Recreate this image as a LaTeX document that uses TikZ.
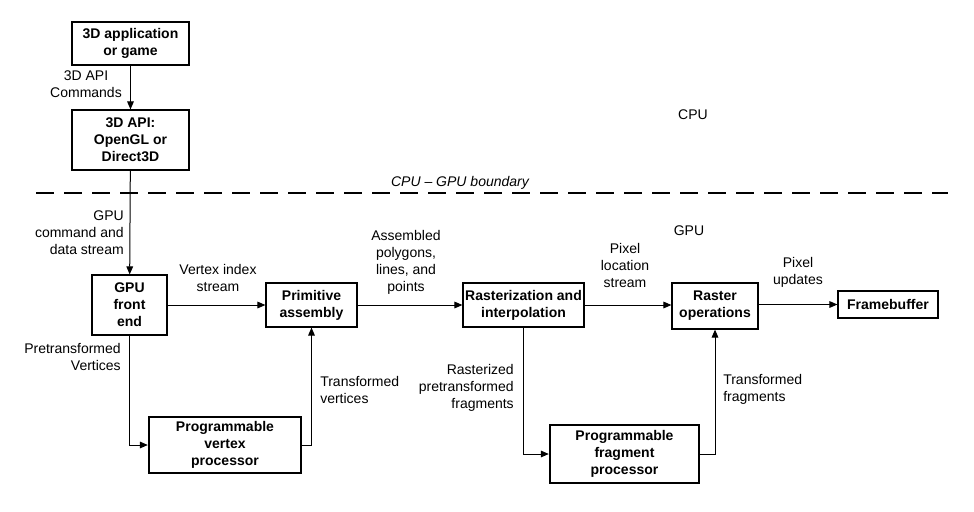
\documentclass[tikz,border=0pt]{standalone}
\usepackage{fontspec}
\setmainfont{Liberation Sans}
\usetikzlibrary{arrows.meta}
\begin{document}
\begin{tikzpicture}[x=0.75pt,y=-0.75pt,
  font=\fontsize{10.5}{12.75}\selectfont,
  box/.style={draw,line width=0.9pt,font=\fontsize{10.5}{12.75}\selectfont\bfseries,align=center,inner sep=0pt,anchor=center},
  pbox/.style={box,line width=1.8pt},
  conn/.style={line width=0.75pt,-{Triangle[length=6pt,width=5pt]}},
  lbl/.style={inner sep=0pt}
]
\useasboundingbox (0,0) rectangle (974,511);
% boxes
\node[box,minimum width=117*0.75pt,minimum height=43*0.75pt] (app) at (130.5,43.5) {3D application\\or game};
\node[box,minimum width=117*0.75pt,minimum height=60*0.75pt] (api) at (130.5,140) {3D API:\\OpenGL or\\Direct3D};
\node[box,minimum width=75*0.75pt,minimum height=60*0.75pt] (gfe) at (129.5,305) {GPU\\front\\end};
\node[box,minimum width=91*0.75pt,minimum height=44*0.75pt] (pa) at (311.5,305) {Primitive\\assembly};
\node[box,minimum width=121*0.75pt,minimum height=44*0.75pt] (rast) at (523.5,305) {Rasterization and\\interpolation};
\node[box,minimum width=86*0.75pt,minimum height=46*0.75pt] (rop) at (715,306) {Raster\\operations};
\node[box,minimum width=100*0.75pt,minimum height=27*0.75pt] (fb) at (888,304.5) {Framebuffer};
\node[pbox,minimum width=152*0.75pt,minimum height=56*0.75pt] (pvp) at (225,445) {Programmable\\vertex\\processor};
\node[pbox,minimum width=149*0.75pt,minimum height=58*0.75pt] (pfp) at (624.5,454) {Programmable\\fragment\\processor};
% boundary
\coordinate (bl) at (36,193);
\coordinate (br) at (948,193);
\draw[line width=2.2pt,dash pattern=on 13.5pt off 7.5pt] (bl) -- (br);
\node[lbl,font=\fontsize{10.5}{12.75}\selectfont\itshape] (bnd) at (460,183) {CPU -- GPU boundary};
\node[lbl] (cpu) at (693,115) {CPU};
\node[lbl] (gpu) at (689,231) {GPU};
% connectors
\draw[conn] (app) -- (api);
\draw[conn] (api) -- (gfe);
\draw[conn] (gfe) -- (pa);
\draw[conn] (pa) -- (rast);
\draw[conn] (rast.east) -- (rop.west |- rast.east);
\draw[conn] (rop.east |- fb.west) -- (fb.west);
\draw[conn] (gfe.south) |- (pvp.west);
\draw[conn] (pvp.east) -| (pa.south);
\draw[conn] (rast.south) |- (pfp.west);
\draw[conn] (pfp.east) -| (rop.south);
% labels
\node[lbl,align=center] (l1) at (86,84.5) {3D API\\Commands};
\node[lbl,anchor=east,align=right] (l2) at (124,232.5) {GPU\\command and\\data stream};
\node[lbl,align=center] (l3) at (218,277.5) {Vertex index\\stream};
\node[lbl,align=center] (l4) at (406,262) {Assembled\\polygons,\\lines, and\\points};
\node[lbl,anchor=east,align=right] (l5) at (121,357) {Pretransformed\\Vertices};
\node[lbl,anchor=west,align=left] (l6) at (320,389.5) {Transformed\\vertices};
\node[lbl,anchor=east,align=right] (l7) at (514,388) {Rasterized\\pretransformed\\fragments};
\node[lbl,align=center] (l8) at (625,265) {Pixel\\location\\stream};
\node[lbl,anchor=west,align=left] (l9) at (723,389.5) {Transformed\\fragments};
\node[lbl,align=center] (l10) at (798,272.5) {Pixel\\updates};
\end{tikzpicture}
\end{document}
